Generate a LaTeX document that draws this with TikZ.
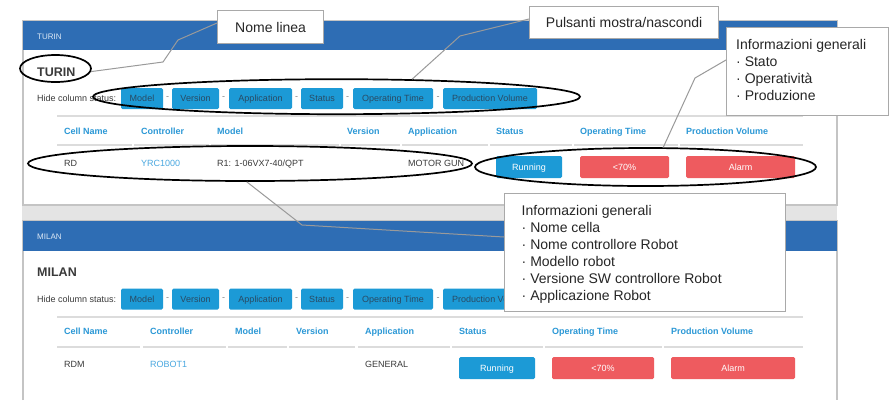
\documentclass[tikz,border=0pt]{standalone}
\usepackage{fontspec}
\setmainfont{Liberation Sans}
\usetikzlibrary{shapes.geometric,calc}
\definecolor{hdrblue}{HTML}{2E6DB4}
\definecolor{btnblue}{HTML}{1C9AD6}
\definecolor{btntext}{HTML}{294A63}
\definecolor{alarmred}{HTML}{EE5B5F}
\definecolor{colblue}{HTML}{2B98D6}
\definecolor{linkblue}{HTML}{4AA8E0}
\definecolor{rowtext}{HTML}{3A3A3A}
\definecolor{bandgray}{HTML}{E4E4E4}
\definecolor{framegray}{HTML}{C4C4C4}
\definecolor{rulegray}{HTML}{DCDCDC}
\definecolor{leadgray}{HTML}{9A9A9A}
\definecolor{boxgray}{HTML}{A9A9A9}
\definecolor{hdrtext}{HTML}{DCE8F5}
\begin{document}
\begin{tikzpicture}[x=1pt,y=-1pt,
  ui/.style={font=\fontsize{9}{10}\selectfont, inner sep=0pt, text height=6.5pt, text depth=0pt, anchor=west},
  colhead/.style={ui, font=\fontsize{9}{10}\selectfont\bfseries, text=colblue},
  rowtxt/.style={ui, text=rowtext},
  linktxt/.style={ui, text=linkblue},
  hdrtxt/.style={ui, font=\fontsize{8}{9}\selectfont, text=hdrtext},
  titletxt/.style={inner sep=0pt, anchor=west, font=\fontsize{12.5}{14}\selectfont\bfseries, text=rowtext},
  togglebtn/.style={rectangle, rounded corners=1.5pt, fill=btnblue, text=btntext, font=\fontsize{9}{10}\selectfont, inner sep=0pt, text height=6.5pt, text depth=0pt, minimum height=21pt},
  dashtxt/.style={inner sep=0pt, font=\fontsize{9}{10}\selectfont, text=gray},
  statbtn/.style={rectangle, rounded corners=1.5pt, text=white, font=\fontsize{9}{10}\selectfont, inner sep=0pt, text height=6.5pt, text depth=0pt, minimum height=22pt},
  ring/.style={ellipse, draw=black, line width=1.7pt, inner sep=0pt},
  leader/.style={draw=leadgray, line width=1pt},
  callout/.style={rectangle, draw=boxgray, fill=white, line width=1.3pt, inner sep=0pt, anchor=north west, font=\fontsize{14}{17}\selectfont, text=black!85},
  calltext/.style={inner sep=0pt, anchor=north west, align=left, font=\fontsize{14}{17}\selectfont, text=black!85},
  tablerule/.style={draw=rulegray, line width=1.2pt},
  lowrule/.style={draw=rulegray, line width=2.5pt}
]
\useasboundingbox (0,0) rectangle (890,400);
% ---------- panels ----------
\fill[bandgray] (22,205) rectangle (837,221);
\draw[framegray, fill=white, line width=1.2pt] (23,21) rectangle (837,205);
\fill[hdrblue] (23,21) rectangle (837,50);
\fill[white] (23,221) rectangle (837,400);
\draw[framegray, line width=1.2pt] (23,400) -- (23,221) -- (837,221) -- (837,400);
\fill[hdrblue] (23,221) rectangle (837,251);

% ---------- panel 1 : TURIN ----------
\node[hdrtxt] (h1) at (37,36) {TURIN};
\node[titletxt] (t1) at (37,72) {TURIN};
\node[ui, text=rowtext] (hide1) at (37,98.5) {Hide column status:};
\node[togglebtn, minimum width=42pt] (a1) at (142,98.5) {Model};
\node[dashtxt] (da1) at (167.5,98.5) {-};
\node[togglebtn, minimum width=47pt] (a2) at (195.5,98.5) {Version};
\node[dashtxt] (da2) at (223.5,98.5) {-};
\node[togglebtn, minimum width=63pt] (a3) at (260.5,98.5) {Application};
\node[dashtxt] (da3) at (296.5,98.5) {-};
\node[togglebtn, minimum width=42pt] (a4) at (322,98.5) {Status};
\node[dashtxt] (da4) at (347.5,98.5) {-};
\node[togglebtn, minimum width=80pt] (a5) at (393,98.5) {Operating Time};
\node[dashtxt] (da5) at (438,98.5) {-};
\node[togglebtn, minimum width=94pt] (a6) at (490,98.5) {Production Volume};

\draw[tablerule] (57,116) -- (803,116);
\foreach \xa/\xb in {57/132,134/209,211/339,341/400,402/488,490/572,574/678,680/803}
  \draw[lowrule] (\xa,145) -- (\xb,145);
\node[colhead] (ch1) at (64,131) {Cell Name};
\node[colhead] (ch2) at (141,131) {Controller};
\node[colhead] (ch3) at (217,131) {Model};
\node[colhead] (ch4) at (347,131) {Version};
\node[colhead] (ch5) at (408,131) {Application};
\node[colhead] (ch6) at (496,131) {Status};
\node[colhead] (ch7) at (580,131) {Operating Time};
\node[colhead] (ch8) at (686,131) {Production Volume};

\node[rowtxt] (r1) at (64,163) {RD};
\node[linktxt] (r2) at (141,163) {YRC1000};
\node[rowtxt] (r3) at (217,163) {R1: 1-06VX7-40/QPT};
\node[rowtxt] (r4) at (408,163) {MOTOR GUN};
\node[statbtn, fill=btnblue, minimum width=66pt] (s1) at (529,167) {Running};
\node[statbtn, fill=alarmred, minimum width=89pt] (s2) at (624.5,167) {<70\%};
\node[statbtn, fill=alarmred, minimum width=109pt] (s3) at (740.5,167) {Alarm};

% ---------- panel 2 : MILAN ----------
\node[hdrtxt] (h2) at (37,236.5) {MILAN};
\node[titletxt] (t2) at (37,272.5) {MILAN};
\node[ui, text=rowtext] (hide2) at (37,299) {Hide column status:};
\node[togglebtn, minimum width=42pt] (b1) at (142,299) {Model};
\node[dashtxt] (db1) at (167.5,299) {-};
\node[togglebtn, minimum width=47pt] (b2) at (195.5,299) {Version};
\node[dashtxt] (db2) at (223.5,299) {-};
\node[togglebtn, minimum width=63pt] (b3) at (260.5,299) {Application};
\node[dashtxt] (db3) at (296.5,299) {-};
\node[togglebtn, minimum width=42pt] (b4) at (322,299) {Status};
\node[dashtxt] (db4) at (347.5,299) {-};
\node[togglebtn, minimum width=80pt] (b5) at (393,299) {Operating Time};
\node[dashtxt] (db5) at (438,299) {-};
\node[togglebtn, minimum width=94pt] (b6) at (490,299) {Production Volume};

\draw[tablerule] (57,317) -- (803,317);
\foreach \xa/\xb in {57/140,143/226,228/287,289/355,358/450,452/543,545/662,664/803}
  \draw[lowrule] (\xa,347) -- (\xb,347);
\node[colhead] (dh1) at (64,331.5) {Cell Name};
\node[colhead] (dh2) at (150,331.5) {Controller};
\node[colhead] (dh3) at (235,331.5) {Model};
\node[colhead] (dh4) at (296,331.5) {Version};
\node[colhead] (dh5) at (365,331.5) {Application};
\node[colhead] (dh6) at (459,331.5) {Status};
\node[colhead] (dh7) at (552,331.5) {Operating Time};
\node[colhead] (dh8) at (671,331.5) {Production Volume};

\node[rowtxt] (q1) at (64,364) {RDM};
\node[linktxt] (q2) at (150,364) {ROBOT1};
\node[rowtxt] (q3) at (365,364) {GENERAL};
\node[statbtn, fill=btnblue, minimum width=76pt] (u1) at (497,368) {Running};
\node[statbtn, fill=alarmred, minimum width=102pt] (u2) at (603,368) {<70\%};
\node[statbtn, fill=alarmred, minimum width=124pt] (u3) at (733,368) {Alarm};

% ---------- highlight ellipses ----------
\node[ring, minimum width=71pt, minimum height=27pt] (eT) at (55.5,68.5) {};
\node[ring, minimum width=487pt, minimum height=35pt] (eB) at (336.5,96.7) {};
\node[ring, minimum width=444pt, minimum height=35pt] (eR1) at (250,163.5) {};
\node[ring, minimum width=341pt, minimum height=38pt] (eR2) at (645.5,167) {};

% ---------- callout boxes ----------
\node[callout, minimum width=106pt, minimum height=33pt] (c1) at (217,10) {Nome linea};
\node[callout, minimum width=189pt, minimum height=32pt] (c2) at (529,6) {Pulsanti mostra/nascondi};
\node[callout, minimum width=162pt, minimum height=88pt] (c3) at (726,27) {};
\node[callout, minimum width=281pt, minimum height=118pt] (c4) at (504,193) {};

% ---------- leader lines ----------
\coordinate (k1a) at (178,40);
\coordinate (k1b) at (163,62);
\coordinate (k2a) at (460,36);
\coordinate (k3a) at (695,78);
\coordinate (k4a) at (302,225);
\draw[leader] ($(c1.north west)+(0,13)$) -- (k1a) -- (k1b) -- (eT.-5);
\draw[leader] ($(c2.north west)+(0,13)$) -- (k2a) -- (eB.13);
\draw[leader] ($(c3.north west)+(0,33)$) -- (k3a) -- (eR2.48);
\draw[leader] (eR1.260) -- (k4a) -- ($(c4.north west)+(0,44)$);

% ---------- callout texts ----------
\node[calltext] (c3t) at (736,39.3) {Informazioni generali\\· Stato\\· Operatività\\· Produzione};
\node[calltext] (c4t) at (521.5,205) {Informazioni generali\\· Nome cella\\· Nome controllore Robot\\· Modello robot\\· Versione SW controllore Robot\\· Applicazione Robot};
\end{tikzpicture}
\end{document}
